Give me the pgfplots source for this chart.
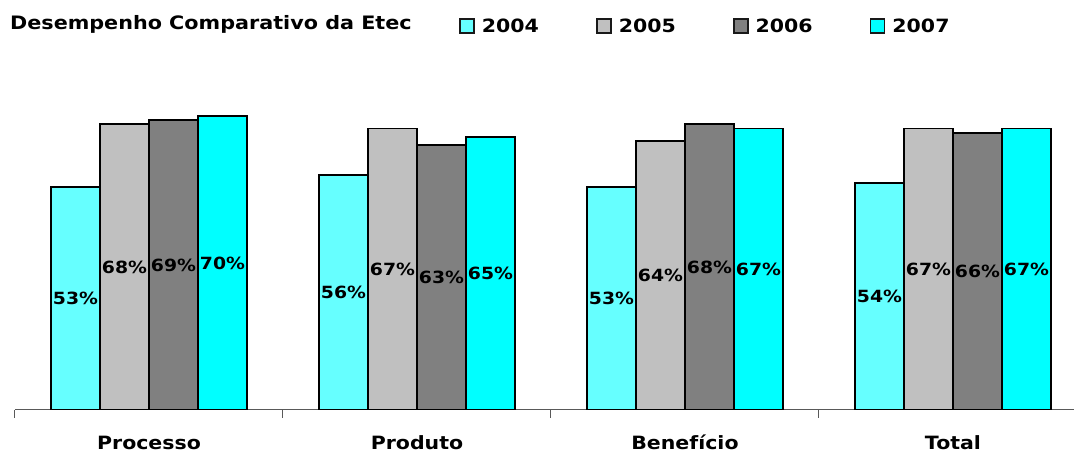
\documentclass[border=0pt]{standalone}
\usepackage{fontspec}
\setmainfont{DejaVu Sans}[FakeStretch=1.12]
\usepackage{pgfplots}
\usepackage{pgfplotstable}
\pgfplotsset{compat=1.18}
\definecolor{c2004}{RGB}{102,255,255}
\definecolor{c2005}{RGB}{192,192,192}
\definecolor{c2006}{RGB}{128,128,128}
\definecolor{c2007}{RGB}{0,255,255}
\pgfplotstableread{
x a b c d
0 53 68 69 70
1 56 67 63 65
2 53 64 68 67
3 54 67 66 67
}\data
\begin{document}
\begin{tikzpicture}
\path[use as bounding box] (-15pt,-42pt) rectangle (1059pt,410pt);
\begin{axis}[
  at={(0,0)}, anchor=south west,
  scale only axis, width=1059pt, height=336pt,
  xmin=-0.5, xmax=3.4515, ymin=0, ymax=80,
  ybar, bar width=0.1828,
  axis x line*=bottom, axis y line=none,
  x axis line style={line width=1pt, color=black!65},
  xtick={0,1,2,3}, xticklabels={Processo,Produto,Benefício,Total},
  major tick length=0pt,
  xticklabel style={anchor=base, yshift=-39.5pt, font=\fontsize{18.3}{22}\selectfont\bfseries},
  extra x ticks={-0.5,0.5,1.5,2.5}, extra x tick labels={},
  extra x tick style={tick align=outside, major tick length=8pt, tick style={line width=1pt, color=black!65}},
  nodes near coords={\pgfmathprintnumber[assume math mode=true,precision=0]{\pgfplotspointmeta}\%},
  nodes near coords align={anchor=center},
  visualization depends on={y \as \rawy},
  every node near coord/.append style={anchor=center, yshift={-2.1pt*\rawy}, font=\fontsize{16.8}{20}\selectfont\bfseries, text=black, inner sep=0pt},
  mylegend/.style={legend image code/.code={\draw[##1, line width=1.8pt, draw=black!90] (0pt,-7pt) rectangle (14pt,7pt); \path (19pt,0pt);}},
  legend columns=4,
  legend style={draw=none, fill=none, inner sep=0pt, at={(0.4192,1.1429)}, anchor=west,
    font=\fontsize{18.3}{22}\selectfont\bfseries,
    /tikz/every even column/.append style={column sep=55pt}},
]
\addplot[fill=c2004, draw=black, line width=1.8pt, bar shift=-0.2742, mylegend] table[x=x,y=a] {\data};
\addplot[fill=c2005, draw=black, line width=1.8pt, bar shift=-0.0914, mylegend] table[x=x,y=b] {\data};
\addplot[fill=c2006, draw=black, line width=1.8pt, bar shift=0.0914, mylegend] table[x=x,y=c] {\data};
\addplot[fill=c2007, draw=black, line width=1.8pt, bar shift=0.2742, mylegend] table[x=x,y=d] {\data};
\legend{2004,2005,2006,2007}
\end{axis}
\node[anchor=base west, font=\fontsize{18.5}{22}\selectfont\bfseries, inner sep=0pt] at (-5pt,380pt) {Desempenho Comparativo da Etec};
\end{tikzpicture}
\end{document}
